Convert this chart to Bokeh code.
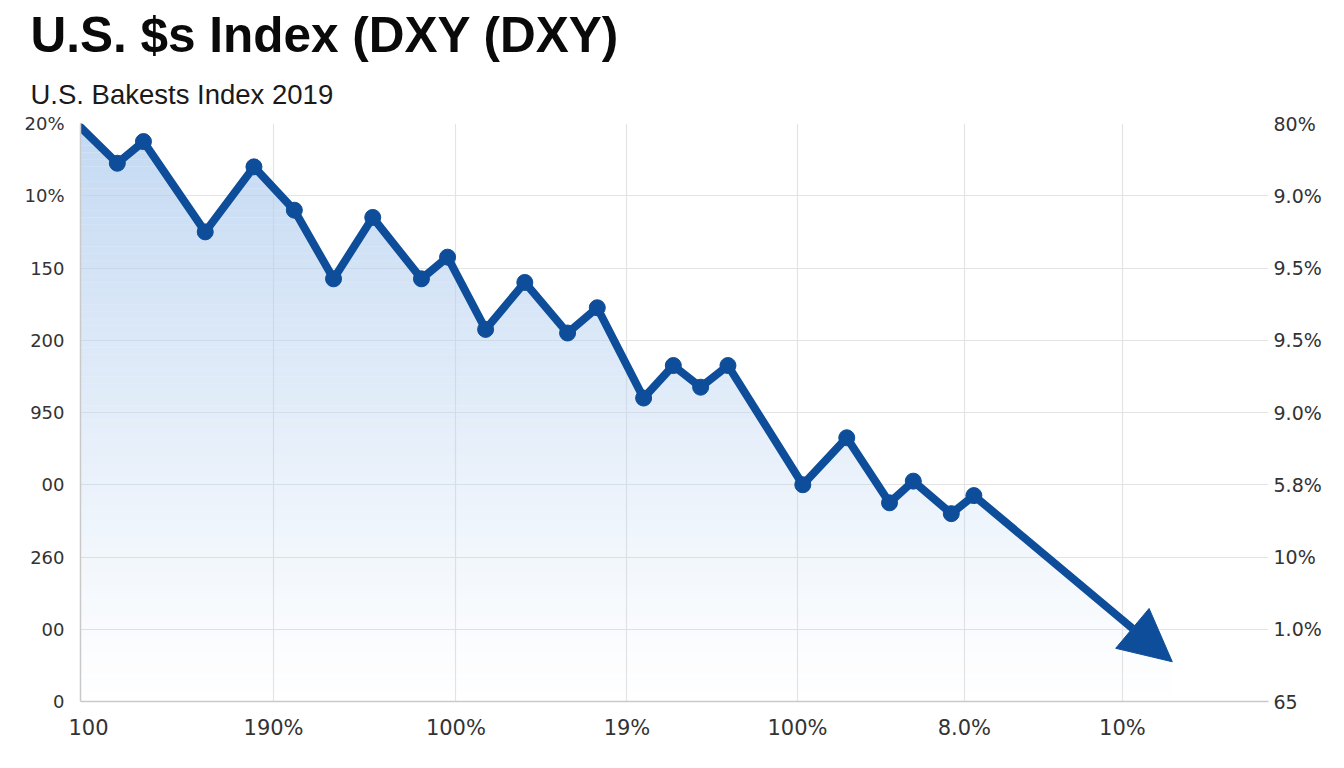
import numpy as np
from bokeh.plotting import figure
from bokeh.models import Range1d, LinearAxis, FixedTicker, Title, Arrow, NormalHead
from bokeh.embed import file_html
from bokeh.resources import INLINE

# ---- data ----
title_text = "U.S. $s Index (DXY (DXY)"
subtitle_text = "U.S. Bakests Index 2019"

x_vals = [0, 3.1, 5.3, 10.5, 14.6, 18.0, 21.3, 24.6, 28.7, 30.9, 34.1, 37.4,
          41.0, 43.5, 47.4, 49.9, 52.2, 54.5, 60.8, 64.5, 68.1, 70.1, 73.3, 75.2]
y_vals = [159, 149, 155, 130, 148, 136, 117, 134, 117, 123, 103, 116,
          102, 109, 84, 93, 87, 93, 60, 73, 55, 61, 52, 57]
trend_x = [75.2, 91.9]
trend_y = [57, 11]

x_ticks = [0.67, 16.25, 31.6, 46.0, 60.35, 74.4, 87.7]
x_labels = ["100", "190%", "100%", "19%", "100%", "8.0%", "10%"]
y_ticks = [0, 20, 40, 60, 80, 100, 120, 140, 160]
y_labels_left = ["0", "00", "260", "00", "950", "200", "150", "10%", "20%"]
y_labels_right = ["65", "1.0%", "10%", "5.8%", "9.0%", "9.5%", "9.5%", "9.0%", "80%"]

LINE = "#0d4d99"
TICK_FONT = "DejaVu Sans"

p = figure(width=1336, height=760, output_backend="svg", toolbar_location=None,
           x_range=Range1d(0, 100), y_range=Range1d(0, 160),
           min_border_left=80, min_border_right=68, min_border_top=123,
           min_border_bottom=59)
p.outline_line_color = None
p.background_fill_color = "white"
p.border_fill_color = "white"

# titles (added subtitle first: closest to frame)
p.add_layout(Title(text=subtitle_text, align="left", offset=-50,
                   text_font="Liberation Sans", text_font_size="27.5px",
                   text_font_style="normal", text_color="#1a1a1a", standoff=28), "above")
p.add_layout(Title(text=title_text, align="left", offset=-50,
                   text_font="Liberation Sans", text_font_size="49.5px",
                   text_font_style="bold", text_color="#0a0a0a", standoff=1), "above")

# gradient area fill under the series (banded)
all_x = np.array(x_vals + trend_x[1:], dtype=float)
all_y = np.array(y_vals + trend_y[1:], dtype=float)
xd = np.linspace(all_x[0], all_x[-1], 900)
yd = np.interp(xd, all_x, all_y)
levels = np.linspace(0, 160, 81)
base = np.array([178, 206, 239])
for lo, hi in zip(levels[:-1], levels[1:]):
    mid = 0.5 * (lo + hi)
    a = 0.78 * (mid / 160.0) ** 1.1
    top = np.clip(yd, lo, hi)
    p.varea(x=xd, y1=np.full_like(xd, lo), y2=top,
            fill_color=tuple(int(c) for c in base), fill_alpha=a)

# series line and markers
p.line(x_vals, y_vals, line_width=8, line_color=LINE, line_join="round", line_cap="round")
p.scatter(x_vals[1:], y_vals[1:], size=16, fill_color=LINE, line_color=LINE)

# trend arrow
p.add_layout(Arrow(end=NormalHead(size=52, fill_color=LINE, line_color=LINE, line_width=1),
                   x_start=trend_x[0], y_start=trend_y[0], x_end=trend_x[1], y_end=trend_y[1],
                   line_width=8, line_color=LINE))

# axes
xa = p.xaxis[0]
xa.ticker = FixedTicker(ticks=x_ticks)
xa.major_label_overrides = {t: l for t, l in zip(x_ticks, x_labels)}
ya = p.yaxis[0]
ya.ticker = FixedTicker(ticks=y_ticks)
ya.major_label_overrides = {t: l for t, l in zip(y_ticks, y_labels_left)}

ra = LinearAxis(y_range_name="default")
ra.ticker = FixedTicker(ticks=y_ticks)
ra.major_label_overrides = {t: l for t, l in zip(y_ticks, y_labels_right)}
p.add_layout(ra, "right")

for ax, size, standoff in ((xa, "21px", 14), (ya, "18px", 16), (ra, "19px", 5)):
    ax.major_tick_line_color = None
    ax.minor_tick_line_color = None
    ax.major_tick_out = 0
    ax.major_tick_in = 0
    ax.major_label_text_font = TICK_FONT
    ax.major_label_text_font_size = size
    ax.major_label_text_color = "#333333"
    ax.major_label_standoff = standoff
xa.axis_line_color = "#c9c9c9"
xa.axis_line_width = 1.5
ya.axis_line_color = "#c9c9c9"
ya.axis_line_width = 1.5
ra.axis_line_color = None

p.xgrid.ticker = FixedTicker(ticks=x_ticks[1:])
p.xgrid.grid_line_color = "#e4e4e4"
p.ygrid.grid_line_color = "#e4e4e4"
p.xgrid.grid_line_width = 1.2
p.ygrid.grid_line_width = 1.2

open("out.html", "w").write(file_html(p, INLINE))
